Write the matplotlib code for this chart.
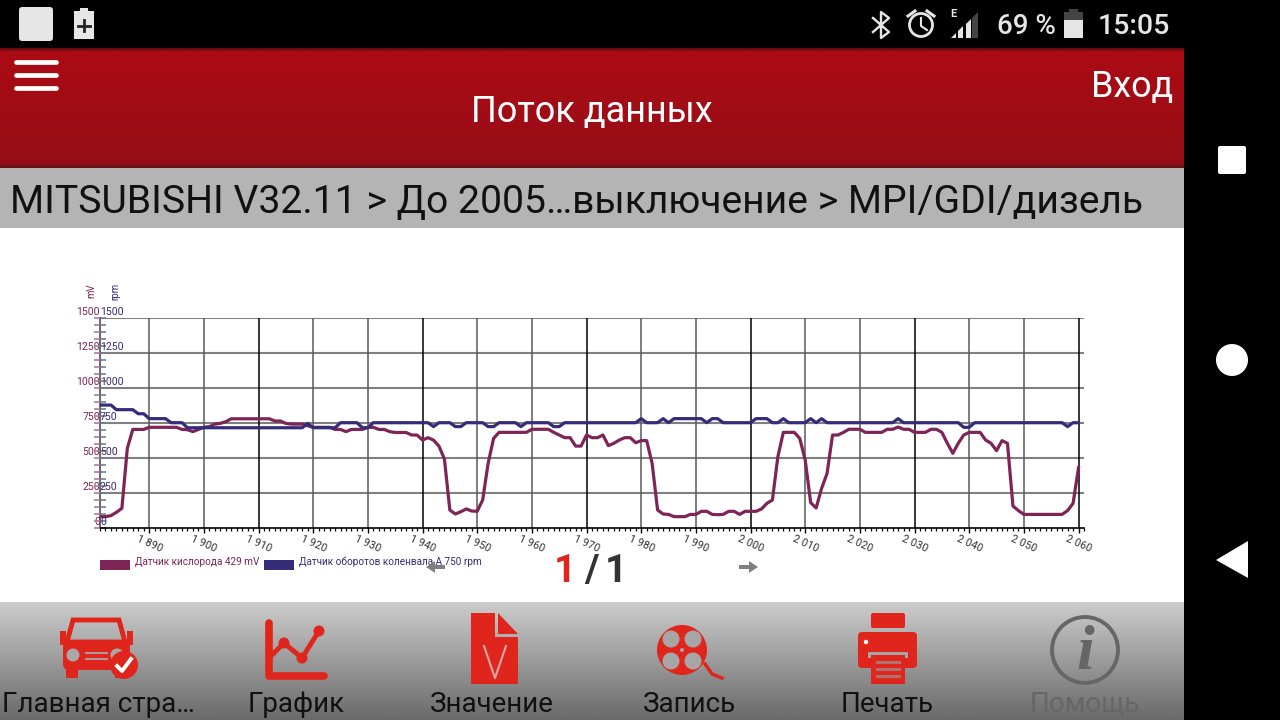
import numpy as np
from matplotlib import pyplot as plt
from matplotlib.patches import Rectangle, Circle, Polygon, FancyBboxPatch

plt.rcParams['font.family'] = ['Roboto', 'DejaVu Sans']
plt.rcParams['patch.linewidth'] = 0

# sensor samples, one per frame, frame numbers start at 1881
oxygen = [79, 79, 86, 110, 138, 567, 702, 702, 702,
          717, 717, 717, 717, 717, 717, 702, 700, 686, 702,
          717, 722, 740, 745, 757, 778, 778, 778, 778, 778,
          778, 778, 778, 762, 762, 745, 740, 740, 740, 728,
          717, 717, 717, 717, 702, 702, 686, 702, 702, 702,
          717, 717, 702, 702, 686, 680, 680, 680, 662, 662,
          626, 643, 626, 583, 491, 126, 98, 114, 134, 119,
          117, 198, 460, 638, 681, 681, 681, 681, 681, 681,
          703, 703, 703, 703, 681, 662, 643, 643, 583, 583,
          662, 643, 643, 662, 586, 603, 626, 643, 643, 607,
          622, 622, 460, 126, 98, 95, 79, 79, 79, 95,
          95, 117, 117, 95, 93, 95, 117, 117, 95, 117,
          117, 117, 134, 174, 198, 507, 681, 681, 681, 638,
          484, 179, 141, 281, 388, 662, 662, 681, 703, 703,
          703, 681, 681, 681, 681, 703, 703, 719, 703, 703,
          681, 681, 681, 703, 703, 681, 603, 531, 603, 662,
          681, 681, 681, 626, 603, 550, 622, 603, 155, 122,
          95, 95, 95, 95, 95, 95, 95, 95, 122, 174,
          429]
rpm = [876, 876, 876, 843, 843, 843, 843, 814, 814,
       779, 779, 779, 779, 750, 750, 750, 714, 714, 714,
       714, 714, 714, 714, 714, 714, 714, 714, 714, 714,
       714, 714, 714, 714, 714, 714, 714, 714, 714, 745,
       714, 714, 714, 714, 714, 750, 750, 750, 750, 714,
       714, 750, 750, 750, 750, 750, 750, 750, 750, 750,
       750, 750, 722, 750, 750, 750, 722, 722, 750, 750,
       750, 750, 722, 722, 750, 750, 750, 750, 722, 750,
       750, 750, 750, 750, 722, 722, 750, 750, 750, 750,
       750, 750, 750, 750, 750, 750, 750, 750, 750, 750,
       779, 750, 750, 750, 779, 750, 779, 779, 779, 779,
       779, 779, 750, 779, 779, 750, 750, 750, 750, 750,
       750, 779, 779, 779, 750, 750, 779, 750, 750, 750,
       750, 779, 750, 779, 750, 750, 750, 750, 750, 750,
       750, 750, 750, 750, 750, 750, 750, 779, 750, 750,
       750, 750, 750, 750, 750, 750, 750, 750, 750, 717,
       717, 750, 750, 750, 750, 750, 750, 750, 750, 750,
       750, 750, 750, 750, 750, 750, 750, 750, 722, 750,
       750]
frames = list(range(1881, 2061))
x_ticks = list(range(1890, 2070, 10))
x_labels = ['1 890', '1 900', '1 910', '1 920', '1 930', '1 940', '1 950', '1 960', '1 970',
            '1 980', '1 990', '2 000', '2 010', '2 020', '2 030', '2 040', '2 050', '2 060']
y_ticks = [0, 250, 500, 750, 1000, 1250, 1500]
legend_names = ['Датчик кислорода 429 mV', 'Датчик оборотов коленвала A 750 rpm']
tabs = ['Главная стра…', 'График', 'Значение', 'Запись', 'Печать', 'Помощь']

PURPLE = '#7F2457'
BLUE = '#342C78'
RED = '#E0261C'

fig = plt.figure(figsize=(12.8, 7.2), dpi=100)

# whole screen in pixel coordinates
bg = fig.add_axes([0, 0, 1, 1])
bg.set_xlim(0, 1280)
bg.set_ylim(720, 0)
bg.axis('off')


def gradient(x0, x1, y0, y1, top, bottom):
    t = np.linspace(0, 1, 64)[:, None, None]
    img = (1 - t) * np.array(top)[None, None, :] + t * np.array(bottom)[None, None, :]
    bg.imshow(img / 255, extent=[x0, x1, y1, y0], aspect='auto', zorder=1)


bg.add_patch(Rectangle((0, 0), 1280, 720, color='black', zorder=0))
bg.add_patch(Rectangle((0, 228), 1184, 374, color='white', zorder=1))
gradient(0, 1184, 48, 168, (172, 11, 19), (150, 14, 24))
gradient(0, 1184, 48, 52, (90, 10, 14), (170, 10, 20))
gradient(0, 1184, 163, 168, (150, 14, 24), (90, 20, 24))
bg.add_patch(Rectangle((0, 168), 1184, 60, color='#B4B4B4', zorder=2))
gradient(0, 1184, 602, 720, (204, 204, 204), (106, 106, 106))
bg.set_xlim(0, 1280)
bg.set_ylim(720, 0)

# status bar
W = '#E6E6E6'
bg.add_patch(FancyBboxPatch((21, 9), 30, 30, boxstyle='round,pad=2,rounding_size=3', fc=W, ec='none', zorder=3))
bg.add_patch(Rectangle((74, 11), 20, 28, color=W, zorder=3))
bg.add_patch(Rectangle((80, 8), 8, 3, color=W, zorder=3))
bg.plot([84, 84], [20, 31], color='#222222', lw=2, zorder=4)
bg.plot([78, 90], [25.5, 25.5], color='#222222', lw=2, zorder=4)
bg.plot([873, 889, 881, 881, 889, 873], [18, 32, 38, 12, 18, 32], color=W, lw=1.7, zorder=3)
bg.add_patch(Circle((921, 25), 11.5, fc='none', ec=W, lw=2, zorder=3))
bg.plot([921, 921, 927], [18, 26, 30], color=W, lw=1.5, zorder=3)
bg.plot([908, 915], [16, 11], color=W, lw=2.2, zorder=3)
bg.plot([927, 934], [11, 16], color=W, lw=2.2, zorder=3)
# signal bars, the last one is unlit
bg.add_patch(Polygon([[951, 38], [956, 33], [956, 38]], color=W, zorder=3))
bg.add_patch(Polygon([[958, 38], [958, 31], [963, 26], [963, 38]], color=W, zorder=3))
bg.add_patch(Polygon([[966, 38], [966, 24], [971, 19], [971, 38]], color=W, zorder=3))
bg.add_patch(Polygon([[972, 38], [972, 18], [978, 12], [978, 38]], color='#444444', zorder=3))
bg.text(953, 14, 'E', color=W, fontsize=8, fontweight='bold', ha='center', va='center', zorder=4)
bg.text(997, 26, '69 %', color=W, fontsize=20, fontweight='medium', va='center', zorder=3)
bg.add_patch(Rectangle((1064, 12), 19, 26, color='#444444', zorder=3))
bg.add_patch(Rectangle((1069, 9), 9, 3, color='#444444', zorder=3))
bg.add_patch(Rectangle((1064, 20), 19, 18, color=W, zorder=3))
bg.text(1098, 26, '15:05', color=W, fontsize=20.5, fontweight='medium', va='center', zorder=3)

# header
for y in [62, 75, 88]:
    bg.plot([16, 56], [y, y], color='white', lw=3.4, solid_capstyle='round', zorder=3)
bg.text(592, 112, 'Поток данных', color='white', fontsize=26, ha='center', va='center', zorder=3)
bg.text(1173, 87, 'Вход', color='white', fontsize=25.8, ha='right', va='center', zorder=3)
bg.text(10, 203, 'MITSUBISHI V32.11 > До 2005…выключение > MPI/GDI/дизель', color='#111111',
        fontsize=28.2, va='center', zorder=3)

# legend and pager
bg.add_patch(Rectangle((100, 560), 30, 10, color=PURPLE, zorder=3))
bg.text(135, 562, legend_names[0], color=PURPLE, fontsize=7.2, va='center', zorder=3)
bg.add_patch(Rectangle((264, 560), 30, 10, color=BLUE, zorder=3))
bg.text(299, 562, legend_names[1], color=BLUE, fontsize=7.2, va='center', zorder=3)
bg.text(565, 572, '1', color=RED, fontsize=28, fontweight='bold', ha='center', va='center', zorder=3)
bg.text(591, 572, '/', color='#333333', fontsize=28, fontweight='bold', ha='center', va='center', zorder=3)
bg.text(616, 572, '1', color='#333333', fontsize=28, fontweight='bold', ha='center', va='center', zorder=3)
bg.add_patch(Polygon([[426, 567], [435, 561], [435, 565], [445, 565], [445, 569], [435, 569], [435, 573]],
                     color='#808080', zorder=4))
bg.add_patch(Polygon([[758, 567], [749, 561], [749, 565], [739, 565], [739, 569], [749, 569], [749, 573]],
                     color='#808080', zorder=4))

# tab bar labels
tab_x = [98, 296, 492, 689, 887, 1085]
for i, name in enumerate(tabs):
    col = '#666666' if i == 5 else '#111111'
    bg.text(tab_x[i], 704, name, color=col, fontsize=20, ha='center', va='center', zorder=3)

# car icon
bg.add_patch(Polygon([[73, 620], [119, 620], [125, 642], [67, 642]], fc='none', ec=RED, lw=3.5, zorder=3))
bg.add_patch(FancyBboxPatch((63, 641), 67, 29, boxstyle='round,pad=0,rounding_size=6', fc=RED, ec='none', zorder=3))
bg.add_patch(Rectangle((66, 666), 12, 12, color=RED, zorder=3))
bg.add_patch(Rectangle((115, 666), 12, 12, color=RED, zorder=3))
bg.add_patch(Rectangle((60, 631), 6, 14, color=RED, zorder=3))
bg.add_patch(Rectangle((127, 631), 6, 14, color=RED, zorder=3))
bg.add_patch(Circle((73, 655), 6.5, color='#A8A8A8', zorder=4))
bg.add_patch(Circle((117, 655), 6.5, color='#A8A8A8', zorder=4))
bg.plot([86, 107], [653, 653], color='#A8A8A8', lw=1.3, zorder=4)
bg.plot([86, 107], [659, 659], color='#A8A8A8', lw=1.3, zorder=4)
bg.add_patch(Circle((124, 665), 14, color=RED, zorder=5))
bg.plot([117, 122, 131], [666, 671, 659], color='white', lw=2.8, zorder=6)

# graph icon
bg.plot([269, 269, 324], [623, 676, 676], color=RED, lw=5.5, solid_capstyle='round', zorder=3)
bg.plot([269, 284, 302, 319], [658, 643, 658, 631], color=RED, lw=3.5, zorder=3)
for px, py in [(284, 643), (302, 658), (319, 631)]:
    bg.add_patch(Circle((px, py), 5.5, color=RED, zorder=3))

# value document icon
bg.add_patch(Polygon([[471, 613], [495, 613], [495, 637], [518, 637], [518, 684], [471, 684]], color=RED, zorder=3))
bg.add_patch(Polygon([[498, 613], [518, 634], [498, 634]], color=RED, zorder=3))
bg.plot([484, 495, 506], [646, 678, 646], color='#D8A8A4', lw=1.5, zorder=4)

# record reel icon
bg.add_patch(Circle((682, 650), 25, color=RED, zorder=3))
for dx, dy in [(-11, -11), (11, -11), (-11, 11), (11, 11)]:
    bg.add_patch(Circle((682 + dx, 650 + dy), 8.5, color='#A6A6A6', zorder=4))
bg.add_patch(Circle((682, 650), 2, color='#A6A6A6', zorder=4))
bg.plot([705, 712, 722], [664, 674, 678], color=RED, lw=2.5, zorder=3)

# printer icon
bg.add_patch(FancyBboxPatch((871, 613), 34, 15, boxstyle='round,pad=0,rounding_size=2', fc=RED, ec='none', zorder=3))
bg.add_patch(FancyBboxPatch((858, 632), 59, 36, boxstyle='round,pad=0,rounding_size=4', fc=RED, ec='none', zorder=3))
bg.add_patch(Rectangle((868, 652), 40, 6, color='#A6A6A6', zorder=4))
bg.add_patch(Rectangle((871, 655), 34, 29, color=RED, zorder=5))
for y in [662, 669, 676]:
    bg.plot([877, 899], [y, y], color='#B07070', lw=2.2, zorder=6)
bg.add_patch(Circle((866, 642), 2.2, color='white', zorder=4))

# help icon
bg.add_patch(Circle((1085, 650), 33, fc='none', ec='#666666', lw=2.8, zorder=3))
bg.text(1085, 654, 'i', color='#666666', fontsize=46, fontweight='bold', style='italic', family='Liberation Serif',
        ha='center', va='center', zorder=3)

# right navigation bar
bg.add_patch(FancyBboxPatch((1218, 146), 28, 28, boxstyle='round,pad=0,rounding_size=2', fc='white', ec='none', zorder=3))
bg.add_patch(Circle((1232, 360), 16, color='white', zorder=3))
bg.add_patch(Polygon([[1216, 560], [1248, 541], [1248, 578]], color='white', zorder=3))

# the chart itself
ax = fig.add_axes([100 / 1280, 1 - 527.7 / 720, 984 / 1280, 210 / 720])
ax.patch.set_alpha(0)
ax.set_xlim(1881, 2061)
ax.set_ylim(0, 1500)

for y in y_ticks[1:]:
    ax.axhline(y, color='#808080', lw=1.5, zorder=1)
for i, x in enumerate(x_ticks):
    ax.axvline(x, color='black' if i % 3 == 2 else '#5A5A5A', lw=1.1, zorder=1)

ax.plot(frames, oxygen, color=PURPLE, lw=2.3, zorder=3, solid_joinstyle='round')
ax.plot(frames, rpm, color=BLUE, lw=2.3, zorder=4, solid_joinstyle='round')

for s in ['top', 'right']:
    ax.spines[s].set_visible(False)
ax.spines['left'].set_color('#666666')
ax.spines['left'].set_linewidth(1.4)
ax.spines['bottom'].set_linewidth(1.2)

ax.set_xticks(x_ticks)
ax.set_xticks(range(1881, 2062), minor=True)
ax.set_xticklabels(x_labels, rotation=-24, fontsize=7.8, color='#333333', ha='center')
ax.tick_params(axis='x', which='major', length=3.5, width=1, pad=0.5)
ax.tick_params(axis='x', which='minor', length=2, width=0.9)

ax.set_yticks(y_ticks)
ax.set_yticks(range(0, 1550, 50), minor=True)
ax.set_yticklabels([])
ax.tick_params(axis='y', which='both', direction='in', length=4.3, width=1.2, color='#7A7A9A')

# oxygen axis sits on the same side, ticks going out
ax_mv = ax.twinx()
ax_mv.patch.set_alpha(0)
ax_mv.set_ylim(0, 1500)
ax_mv.yaxis.tick_left()
ax_mv.set_yticks(range(0, 1550, 50))
ax_mv.set_yticklabels([])
ax_mv.tick_params(axis='y', direction='out', length=4.3, width=1.2, color='#B07C9C')
for s in ax_mv.spines.values():
    s.set_visible(False)

trans = ax.get_yaxis_transform()
for v in y_ticks:
    ax.annotate(str(v), (0, v), xycoords=trans, xytext=(0, 4.3), textcoords='offset points',
                ha='right', va='center', color=PURPLE, fontsize=7.6, annotation_clip=False)
    ax.annotate(str(v), (0, v), xycoords=trans, xytext=(0, 4.3), textcoords='offset points',
                ha='left', va='center', color=BLUE, fontsize=7.6, annotation_clip=False)

bg.text(91, 291, 'mV', color=PURPLE, fontsize=7, rotation=90, ha='center', va='center', zorder=3)
bg.text(115, 291, 'rpm', color=BLUE, fontsize=7, rotation=90, ha='center', va='center', zorder=3)

fig.savefig('out.png', dpi=100)
